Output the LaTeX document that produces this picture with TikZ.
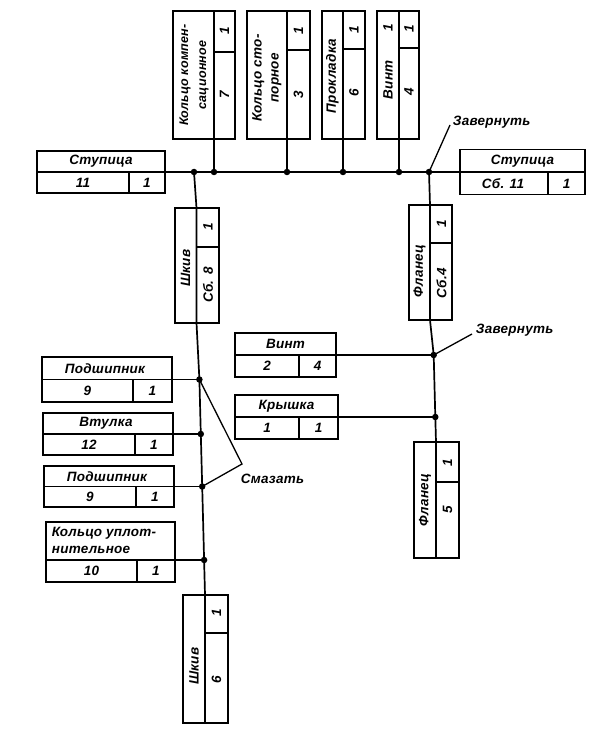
\documentclass[tikz,border=0pt]{standalone}
\usepackage{fontspec}
\setmainfont{Liberation Sans}[LetterSpace=2]
\begin{document}
\begin{tikzpicture}[x=1pt,y=-1pt, line width=1.7pt, line join=miter,
  box/.style={draw, rectangle, inner sep=0pt, outer sep=0pt},
  lbl/.style={font=\fontsize{13.5}{15}\selectfont\bfseries\itshape, inner sep=0pt},
  rlbl/.style={lbl, rotate=90},
  jdot/.style={circle, fill, inner sep=0pt, minimum size=6.5pt}]
\useasboundingbox (0,0) rectangle (591,730);

% ---------- top boxes ----------
\node[box, minimum width=62, minimum height=128] (kk) at (204,75) {};
\draw (214,11) -- (214,139); \draw (214,52) -- (235,52);
\node[rlbl, align=center, font=\fontsize{12.5}{18}\selectfont\bfseries\itshape] (kkt) at (194,75) {Кольцо компен-\\сационное};
\node[rlbl] at (224.5,31) {1};
\node[rlbl] at (224.5,95) {7};

\node[box, minimum width=63, minimum height=128] (ks) at (278.5,75) {};
\draw (287,11) -- (287,139); \draw (287,50) -- (310,50);
\node[rlbl, align=center, font=\fontsize{13.5}{17}\selectfont\bfseries\itshape] (kst) at (267,78) {Кольцо сто-\\порное};
\node[rlbl] at (298.5,31) {1};
\node[rlbl] at (298.5,95) {3};

\node[box, minimum width=43, minimum height=128] (pr) at (343.5,75) {};
\draw (343,11) -- (343,139); \draw (343,49) -- (365,49);
\node[rlbl] (prt) at (332.5,76) {Прокладка};
\node[rlbl] at (354,30) {1};
\node[rlbl] at (354,93) {6};

\node[box, minimum width=42, minimum height=128] (vi) at (398,75) {};
\draw (399,11) -- (399,139); \draw (399,48) -- (419,48);
\node[rlbl] (vit) at (388,80) {Винт};
\node[rlbl] at (388,28) {1};
\node[rlbl] at (409,29) {1};
\node[rlbl] at (409,92) {4};

% ---------- hubs ----------
\node[box, minimum width=128, minimum height=42] (st1) at (101,172) {};
\draw (st1.west) -- (st1.east); \draw (129,172) -- (129,193);
\node[lbl] at (101,161.5) {Ступица};
\node[lbl] at (83,182.5) {11};
\node[lbl] at (147,182.5) {1};

\node[box, minimum width=125, minimum height=45] (st2) at (522.5,172) {};
\draw (st2.west) -- (st2.east); \draw (548,172) -- (548,194.5);
\node[lbl] at (522.5,161) {Ступица};
\node[lbl] at (503,183.5) {Сб. 11};
\node[lbl] at (566.5,183.5) {1};

% ---------- junctions on main line ----------
\node[jdot] (j0) at (194,172) {};
\node[jdot] (j1) at (214,172) {};
\node[jdot] (j2) at (287,172) {};
\node[jdot] (j3) at (343,172) {};
\node[jdot] (j4) at (399,172) {};
\node[jdot] (j5) at (429,172) {};
\draw (st1.east) -- (j0.center) -- (j1.center) -- (j2.center) -- (j3.center) -- (j4.center) -- (j5.center) -- (st2.west);
\draw (kk.south -| j1) -- (j1.center);
\draw (ks.south -| j2) -- (j2.center);
\draw (pr.south -| j3) -- (j3.center);
\draw (vi.south -| j4) -- (j4.center);

% ---------- left branch ----------
\node[box, minimum width=44, minimum height=115] (sh8) at (197,265.5) {};
\coordinate (s8t) at (196.5,208);
\coordinate (s8b) at (196.5,323);
\draw (196.5,247) -- (219,247);
\node[rlbl] at (185.5,268) {Шкив};
\node[rlbl] at (208,227) {1};
\node[rlbl] at (208,285) {Сб. 8};

\node[box, minimum width=130, minimum height=45] (pd1) at (107,379.5) {};
\draw (pd1.west) -- (pd1.east); \draw (133,379.5) -- (133,402);
\node[lbl] at (105,368.5) {Подшипник};
\node[lbl] at (87.5,391) {9};
\node[lbl] at (152.5,391) {1};

\node[box, minimum width=130, minimum height=42] (vt) at (108,434) {};
\draw (vt.west) -- (vt.east); \draw (135,434) -- (135,455);
\node[lbl] at (106,423.5) {Втулка};
\node[lbl] at (89,444.5) {12};
\node[lbl] at (154,444.5) {1};

\node[box, minimum width=130, minimum height=41] (pd2) at (109,486.5) {};
\draw (pd2.west) -- (pd2.east); \draw (136,486.5) -- (136,507);
\node[lbl] at (107,476.5) {Подшипник};
\node[lbl] at (90,497) {9};
\node[lbl] at (155,497) {1};

\node[box, minimum width=129, minimum height=60] (ku) at (110.5,552) {};
\draw (46,560) -- (175,560); \draw (137,560) -- (137,582);
\node[lbl, align=left, anchor=west, font=\fontsize{13.5}{17}\selectfont\bfseries\itshape] at (51,540) {Кольцо уплот-\\нительное};
\node[lbl] at (91.5,571) {10};
\node[lbl] at (156,571) {1};

\node[box, minimum width=45, minimum height=128] (sh6) at (205.5,659) {};
\coordinate (s6t) at (205,595);
\draw (s6t) -- (205,723); \draw (205,633) -- (228,633);
\node[rlbl] at (194,666) {Шкив};
\node[rlbl] at (216.5,613) {1};
\node[rlbl] at (216.5,680) {6};

\node[jdot] (d1) at (199.4,379.5) {};
\node[jdot] (d2) at (200.8,434) {};
\node[jdot] (d3) at (202.2,486.5) {};
\node[jdot] (d4) at (204.1,560) {};
\draw (j0.center) -- (s8t) -- (s8b) -- (d1.center) -- (d2.center) -- (d3.center) -- (d4.center) -- (s6t);
\draw (pd1.east) -- (d1.center);
\draw (vt.east) -- (d2.center);
\draw (pd2.east) -- (d3.center);
\draw (ku.east |- d4) -- (d4.center);

% Smazat
\coordinate (sm) at (242,464);
\draw[line width=1.3pt] (d1.center) -- (sm) -- (d3.center);
\node[lbl, anchor=west] (smt) at (240,479) {Смазать};

% ---------- right branch ----------
\node[box, minimum width=43, minimum height=115] (fl4) at (430.5,262.5) {};
\coordinate (f4t) at (430,205);
\coordinate (f4b) at (430,320);
\draw (430,243) -- (452,243);
\node[rlbl] at (419.5,271) {Фланец};
\node[rlbl] at (441.5,224) {1};
\node[rlbl] at (441.5,283) {Сб.4};

\node[box, minimum width=101, minimum height=44] (vt2) at (285.5,355) {};
\draw (vt2.west) -- (vt2.east); \draw (299,355) -- (299,377);
\node[lbl] at (285.5,344) {Винт};
\node[lbl] at (267,366) {2};
\node[lbl] at (317.5,366) {4};

\node[box, minimum width=103, minimum height=44] (kr) at (286.5,417) {};
\draw (kr.west) -- (kr.east); \draw (299,417) -- (299,439);
\node[lbl] at (286.5,406) {Крышка};
\node[lbl] at (267,428) {1};
\node[lbl] at (318.5,428) {1};

\node[box, minimum width=45, minimum height=116] (fl5) at (436.5,500) {};
\coordinate (f5t) at (436,442);
\draw (f5t) -- (436,558); \draw (436,482) -- (459,482);
\node[rlbl] at (425,500) {Фланец};
\node[rlbl] at (447.5,463) {1};
\node[rlbl] at (447.5,510) {5};

\node[jdot] (dz) at (433.7,355) {};
\node[jdot] (dk) at (435.3,417) {};
\draw (j5.center) -- (f4t) -- (f4b) -- (dz.center) -- (dk.center) -- (f5t);
\draw (vt2.east) -- (dz.center);
\draw (kr.east) -- (dk.center);

% Zavernut
\coordinate (z1) at (450,125);
\draw[line width=1.3pt] (j5.center) -- (z1);
\node[lbl, anchor=west] (zt1) at (452,122) {Завернуть};
\coordinate (z2) at (472,334);
\draw[line width=1.3pt] (dz.center) -- (z2);
\node[lbl, anchor=west] (zt2) at (475,330) {Завернуть};
\end{tikzpicture}
\end{document}
